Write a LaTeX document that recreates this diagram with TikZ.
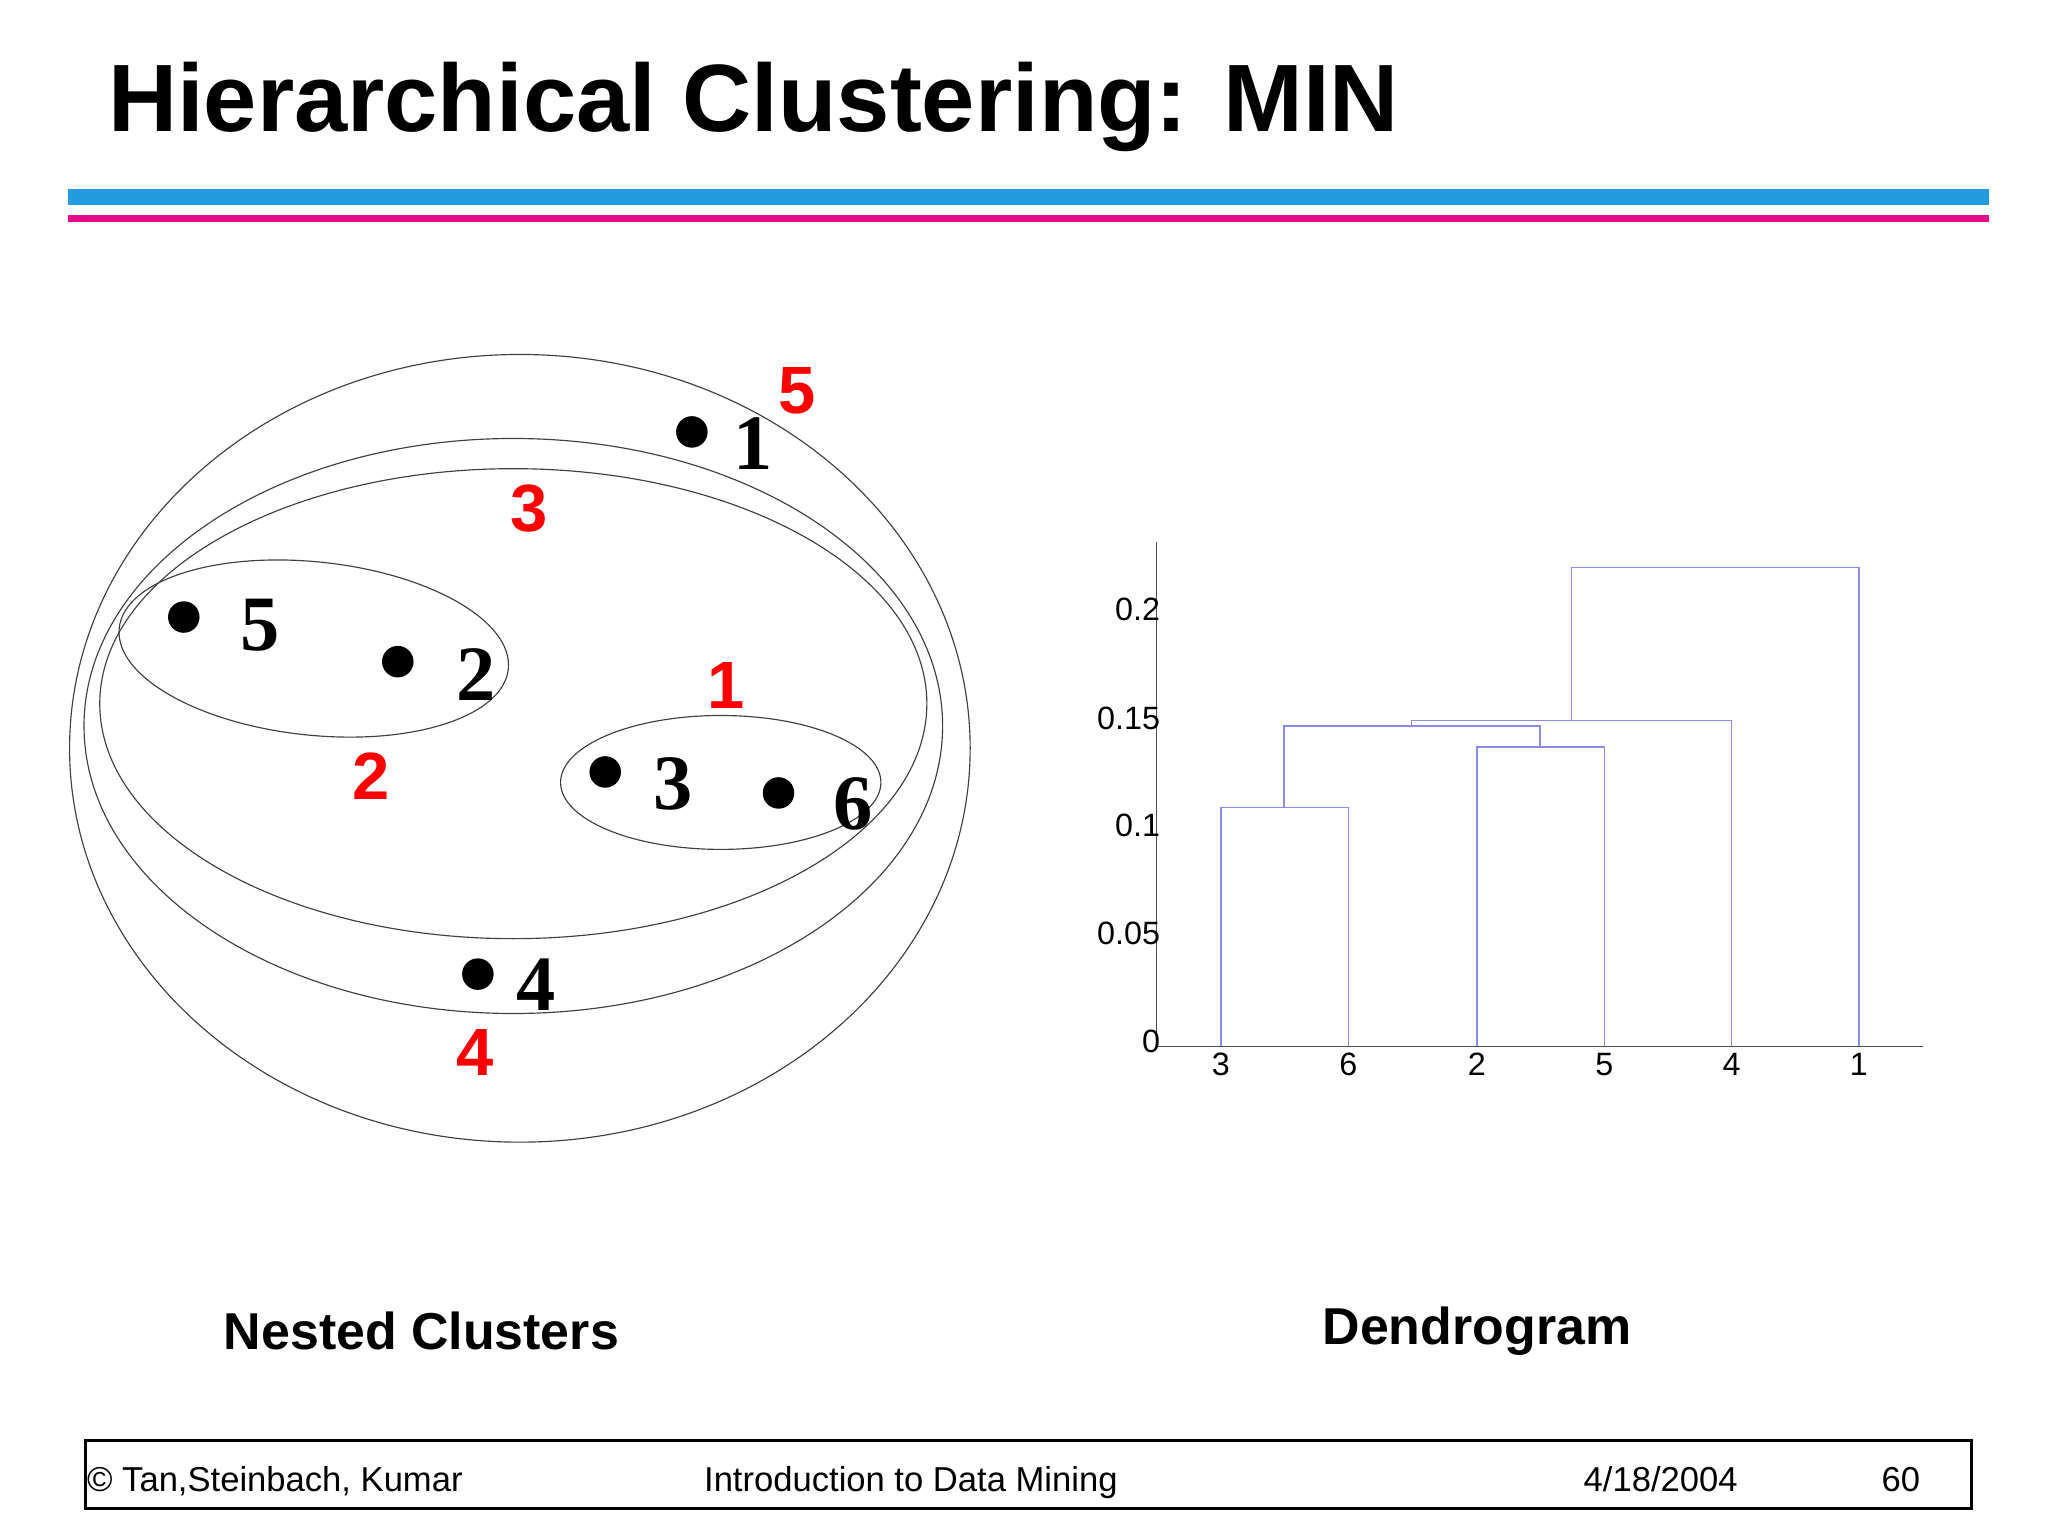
\documentclass[tikz,border=0pt]{standalone}
\usepackage{fontspec}
\setmainfont{Liberation Sans}
\newfontfamily\tms{Liberation Serif}
\begin{document}
\begin{tikzpicture}[x=0.02cm,y=-0.02cm,
  ell/.style={draw=black!75,line width=0.5pt},
  pt/.style={circle,fill=black,inner sep=0pt,minimum size=0.48cm},
  plab/.style={font=\tms\fontsize{34}{36}\selectfont\bfseries,inner sep=0pt},
  rlab/.style={font=\fontsize{29}{31}\selectfont\bfseries,text=red,inner sep=0pt},
  den/.style={draw={rgb,255:red,140;green,140;blue,230},line width=0.5pt},
  tick/.style={font=\fontsize{14}{16}\selectfont,inner sep=0pt},
  captxt/.style={font=\fontsize{22.5}{25}\selectfont\bfseries,inner sep=0pt},
  foot/.style={font=\fontsize{15}{17}\selectfont,inner sep=0pt,anchor=base west}]
\useasboundingbox (0,0) rectangle (1560,1170);
\node[anchor=base west,inner sep=0pt,font=\fontsize{41.5}{46}\selectfont\bfseries] (title) at (82,100) {Hierarchical Clustering: MIN};
\fill[cyan!80!blue!90] (52,144) rectangle (1515,156);
\fill[magenta!90!violet] (52,164) rectangle (1515,169);
% ellipses
\draw[ell] (396,570) ellipse [x radius=343,y radius=300];
\draw[ell] (391,553) ellipse [x radius=327,y radius=219];
\draw[ell] (391,536) ellipse [x radius=315,y radius=179];
\draw[ell,rotate around={-6:(239,494)}] (239,494) ellipse [x radius=149,y radius=66];
\draw[ell] (549,596) ellipse [x radius=122,y radius=51];
% points
\node[pt] (p1) at (527,329) {};
\node[pt] (p5) at (140,470) {};
\node[pt] (p2) at (303,504) {};
\node[pt] (p3) at (461,588) {};
\node[pt] (p6) at (593,604) {};
\node[pt] (p4) at (364,742) {};
\node[plab] (l1) at (574,338) {1};
\node[plab] (l5) at (198,476) {5};
\node[plab] (l2) at (363,514) {2};
\node[plab] (l3) at (513,597) {3};
\node[plab] (l6) at (650,612) {6};
\node[plab] (l4) at (408,750) {4};
\node[rlab] (r5) at (607,298) {5};
\node[rlab] (r3) at (403,387) {3};
\node[rlab] (r1) at (553,522) {1};
\node[rlab] (r2) at (283,591) {2};
\node[rlab] (r4) at (362,802) {4};
% dendrogram axes
\draw[black!70,line width=0.4pt] (881,413) -- (881,797) -- (1465,797);
\foreach \v/\y in {0.2/464,0.15/547,0.1/629,0.05/711,0/793}
  \node[tick,anchor=east] at (884,\y) {\v};
\foreach \l/\x in {3/930,6/1027,2/1125,5/1222,4/1319,1/1416}
  \node[tick] at (\x,811) {\l};
\draw[den] (930,797) -- (930,615) -- (1027,615) -- (1027,797);
\draw[den] (1125,797) -- (1125,569) -- (1222,569) -- (1222,797);
\draw[den] (978,615) -- (978,553) -- (1173,553) -- (1173,569);
\draw[den] (1075,553) -- (1075,549) -- (1319,549) -- (1319,797);
\draw[den] (1197,549) -- (1197,432) -- (1416,432) -- (1416,797);
% captions
\node[captxt] (c1) at (321,1014) {Nested Clusters};
\node[captxt] (c2) at (1125,1014) {Dendrogram};
% footer
\draw[line width=1.2pt] (65,1097) rectangle (1502,1149);
\node[foot] at (66,1136) {\textcopyright\ Tan,Steinbach, Kumar};
\node[foot] at (536,1136) {Introduction to Data Mining};
\node[foot] at (1206,1136) {4/18/2004};
\node[foot] at (1433,1136) {60};
\end{tikzpicture}
\end{document}
